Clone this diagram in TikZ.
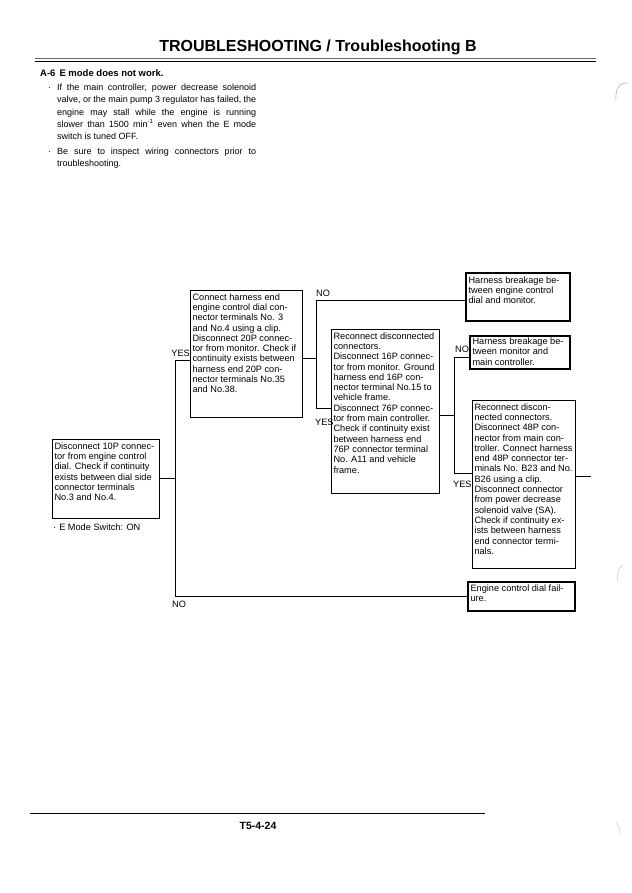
\documentclass[tikz,border=0pt]{standalone}
\usepackage{fontspec}
\setmainfont{Liberation Sans}
\newcommand\flowtxt[3]{\parbox[c][#2][t]{#1}{\raggedright #3}}
\tikzset{
  flowbox/.style={draw=black, line width=0.9pt, inner xsep=2.5pt, inner ysep=3.5pt, outer sep=0pt,
    anchor=north west, font=\fontsize{9.2}{10.3}\selectfont},
  flowthick/.style={flowbox, line width=2pt},
  conn/.style={draw=black, line width=0.8pt},
  lbl/.style={font=\fontsize{9.2}{10}\selectfont, inner sep=0pt},
  bodytxt/.style={font=\fontsize{9}{12.3}\selectfont, inner sep=0pt, anchor=base west},
}
\begin{document}
\begin{tikzpicture}[x=1pt,y=-1pt]
\useasboundingbox (0,0) rectangle (631,893);
\fill[white] (0,0) rectangle (631,893);

% header
\node[font=\bfseries\fontsize{16}{17}\selectfont, inner sep=0pt] (title) at (318,47) {TROUBLESHOOTING / Troubleshooting B};
\draw[line width=0.4pt, black!60] (35,58.5) -- (596,58.5);
\draw[line width=1.6pt] (35,61.5) -- (596,61.5);
\node[font=\bfseries\fontsize{9.5}{11}\selectfont, inner sep=0pt, anchor=base west] (sec) at (40,77) {A-6\hspace{4pt}E mode does not work.};

\node[bodytxt] (b1dot) at (48,90.5) {·};
\node[bodytxt] (b1) at (57,90.5) {\parbox[t]{199pt}{%
\makebox[199pt][s]{If the main controller, power decrease solenoid}\\
\makebox[199pt][s]{valve, or the main pump 3 regulator has failed, the}\\
\makebox[199pt][s]{engine may stall while the engine is running}\\
\makebox[199pt][s]{slower than 1500 min\textsuperscript{-1} even when the E mode}\\
switch is tuned OFF.}};
\node[bodytxt] (b2dot) at (48,154.5) {·};
\node[bodytxt] (b2) at (57,154.5) {\parbox[t]{199pt}{%
\makebox[199pt][s]{Be sure to inspect wiring connectors prior to}\\
troubleshooting.}};

% boxes
\node[flowbox] (A) at (52,439) {\flowtxt{102pt}{72pt}{Disconnect 10P connec-\\tor from engine control\\dial. Check if continuity\\exists between dial side\\connector terminals\\No.3 and No.4.}};
\node[lbl, anchor=base west] (emode) at (53,530) {·\hspace{3pt}E Mode Switch: ON};

\node[flowbox] (B) at (190,290) {\flowtxt{107pt}{120pt}{Connect harness end\\engine control dial con-\\nector terminals No. 3\\and No.4 using a clip.\\Disconnect 20P connec-\\tor from monitor. Check if\\continuity exists between\\harness end 20P con-\\nector terminals No.35\\and No.38.}};

\node[flowbox] (C) at (331,329) {\flowtxt{103pt}{157pt}{Reconnect disconnected\\connectors.\\Disconnect 16P connec-\\tor from monitor. Ground\\harness end 16P con-\\nector terminal No.15 to\\vehicle frame.\\Disconnect 76P connec-\\tor from main controller.\\Check if continuity exist\\between harness end\\76P connector terminal\\No. A11 and vehicle\\frame.}};

\node[flowthick] (D) at (466,273) {\flowtxt{99pt}{41pt}{Harness breakage be-\\tween engine control\\dial and monitor.}};
\node[flowthick, inner ysep=2pt] (E) at (470,336) {\flowtxt{95pt}{29pt}{Harness breakage be-\\tween monitor and\\main controller.}};
\node[flowbox] (F) at (472,400) {\flowtxt{98pt}{161pt}{Reconnect discon-\\nected connectors.\\Disconnect 48P con-\\nector from main con-\\troller. Connect harness\\end 48P connector ter-\\minals No. B23 and No.\\B26 using a clip.\\Disconnect connector\\from power decrease\\solenoid valve (SA).\\Check if continuity ex-\\ists between harness\\end connector termi-\\nals.}};
\node[flowthick, inner ysep=2.5pt] (G) at (468,582) {\flowtxt{102pt}{24pt}{Engine control dial fail-\\ure.}};

% connectors
\draw[conn] (A.east) -- (A.east -| 175,0);
\draw[conn] (B.west |- 0,360) -| (175,596) -- (G.west |- 0,596);
\draw[conn] (B.east |- 0,358) -- (316,358);
\draw[conn] (D.west |- 0,300) -| (316,408) -- (C.west |- 0,408);
\draw[conn] (C.east |- 0,415) -- (454,415);
\draw[conn] (E.west |- 0,357) -| (454,473) -- (F.west |- 0,473);
\coordinate (fe) at (591,476);
\draw[conn] (F.east |- fe) -- (fe);

% labels
\node[lbl, anchor=base east] (yes1) at (190,356) {YES};
\node[lbl, anchor=base west] (no1) at (172,607) {NO};
\node[lbl, anchor=base west] (no2) at (316,296) {NO};
\node[lbl, anchor=base west] (yes2) at (315,425) {YES};
\node[lbl, anchor=base west] (no3) at (455,352) {NO};
\node[lbl, anchor=base west] (yes3) at (453,487) {YES};

% footer
\draw[line width=0.8pt] (30,813) -- (485,813);
\node[font=\bfseries\fontsize{10.5}{12}\selectfont, inner sep=0pt] (page) at (258,826) {T5-4-24};

% faint scan marks
\draw[black!35, line width=0.5pt] (628,83) .. controls (619,82) and (615,90) .. (616,100);
\draw[black!25, line width=0.4pt] (623,565) .. controls (618,568) and (616,574) .. (618,582);
\draw[black!25, line width=0.4pt] (616,822) .. controls (619,826) and (620,830) .. (620,835);
\end{tikzpicture}
\end{document}
